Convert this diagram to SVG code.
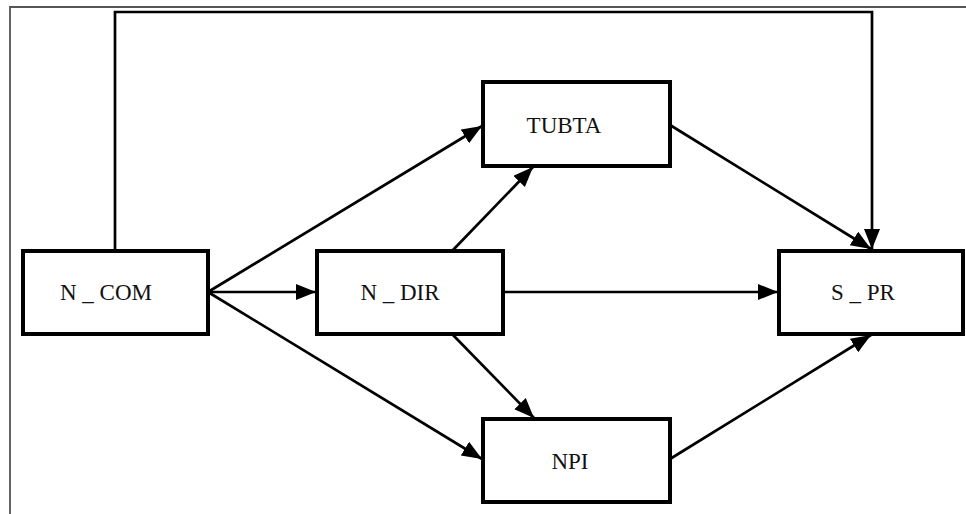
<svg xmlns="http://www.w3.org/2000/svg" width="966" height="514" viewBox="0 0 966 514">
<defs>
<marker id="arr" markerUnits="userSpaceOnUse" markerWidth="22" markerHeight="18" refX="20" refY="8" orient="auto">
<path d="M0,0 L20,8 L0,16 z" fill="#000"/>
</marker>
<style>
.box{fill:#fff;stroke:#000;stroke-width:4}
.lbl{font-family:"Liberation Serif","Times New Roman",serif;font-size:23px;fill:#111;text-anchor:middle}
.edge{fill:none;stroke:#000;stroke-width:2.7}
</style>
</defs>
<rect width="966" height="514" fill="#fff"/>
<path d="M10,514 V7 H966" fill="none" stroke="#555" stroke-width="1.8"/>
<g id="connectors">
<path class="edge" d="M115,250 V12 H872 V249" marker-end="url(#arr)" stroke-width="3"/>
<path class="edge" d="M208,292 L482,126" marker-end="url(#arr)"/>
<path class="edge" d="M208,292 L316,292" marker-end="url(#arr)"/>
<path class="edge" d="M208,292 L482,459" marker-end="url(#arr)"/>
<path class="edge" d="M453,250 L533,167" marker-end="url(#arr)"/>
<path class="edge" d="M453,335 L534,418" marker-end="url(#arr)"/>
<path class="edge" d="M503,292 L778,292" marker-end="url(#arr)"/>
<path class="edge" d="M670,125 L871,249" marker-end="url(#arr)"/>
<path class="edge" d="M670,459 L871,335" marker-end="url(#arr)"/>
</g>
<g id="N_COM"><rect class="box" x="23" y="251" width="185" height="83"/><text class="lbl" x="106" y="300">N _ COM</text></g>
<g id="N_DIR"><rect class="box" x="317" y="251" width="186" height="83"/><text class="lbl" x="400" y="300">N _ DIR</text></g>
<g id="TUBTA"><rect class="box" x="483" y="82" width="187" height="84"/><text class="lbl" x="564" y="133">TUBTA</text></g>
<g id="S_PR"><rect class="box" x="779" y="251" width="184" height="83"/><text class="lbl" x="863" y="300">S _ PR</text></g>
<g id="NPI"><rect class="box" x="483" y="419" width="187" height="83"/><text class="lbl" x="570" y="469">NPI</text></g>
</svg>
